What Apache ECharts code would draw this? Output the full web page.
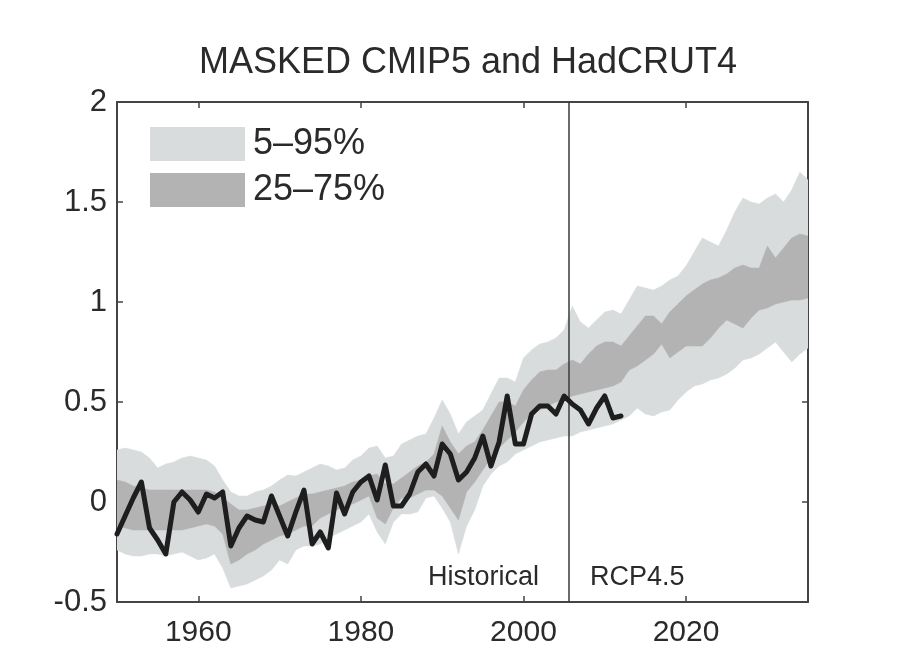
<!DOCTYPE html>
<html>
<head>
<meta charset="utf-8">
<script src="https://cdn.jsdelivr.net/npm/echarts@6/dist/echarts.min.js"></script>
<style>
html,body{margin:0;padding:0;background:#fff;}
#chart{width:900px;height:668px;}
</style>
</head>
<body>
<div id="chart"></div>
<script>
// ---- Data ----
const years = [1950,1951,1952,1953,1954,1955,1956,1957,1958,1959,
  1960,1961,1962,1963,1964,1965,1966,1967,1968,1969,
  1970,1971,1972,1973,1974,1975,1976,1977,1978,1979,
  1980,1981,1982,1983,1984,1985,1986,1987,1988,1989,
  1990,1991,1992,1993,1994,1995,1996,1997,1998,1999,
  2000,2001,2002,2003,2004,2005,2006,2007,2008,2009,
  2010,2011,2012,2013,2014,2015,2016,2017,2018,2019,
  2020,2021,2022,2023,2024,2025,2026,2027,2028,2029,
  2030,2031,2032,2033,2034,2035];

// CMIP5 5th percentile
const p5 = [-0.24,-0.26,-0.27,-0.27,-0.26,-0.26,-0.27,-0.26,-0.25,-0.27,
  -0.29,-0.28,-0.26,-0.33,-0.43,-0.42,-0.41,-0.39,-0.37,-0.34,
  -0.29,-0.31,-0.24,-0.22,-0.22,-0.21,-0.18,-0.16,-0.14,-0.12,
  -0.10,-0.06,-0.15,-0.21,-0.10,-0.06,-0.06,-0.05,0.02,0.03,
  -0.03,-0.10,-0.26,-0.12,-0.04,0.08,0.14,0.18,0.20,0.24,
  0.26,0.28,0.30,0.31,0.32,0.33,0.33,0.35,0.36,0.37,
  0.38,0.39,0.41,0.43,0.47,0.44,0.43,0.45,0.46,0.51,
  0.55,0.58,0.59,0.61,0.62,0.64,0.67,0.71,0.72,0.74,
  0.77,0.80,0.75,0.70,0.74,0.77];

// CMIP5 25th percentile
const p25 = [-0.12,-0.13,-0.14,-0.14,-0.14,-0.14,-0.14,-0.14,-0.14,-0.13,
  -0.12,-0.11,-0.12,-0.16,-0.31,-0.29,-0.26,-0.24,-0.21,-0.19,
  -0.17,-0.16,-0.14,-0.12,-0.12,-0.08,-0.06,-0.04,-0.02,-0.01,
  0.01,0.03,-0.08,-0.11,-0.03,0.02,0.02,0.04,0.06,0.06,
  0.03,-0.03,-0.09,0.05,0.10,0.16,0.22,0.27,0.31,0.35,
  0.40,0.44,0.46,0.48,0.50,0.51,0.53,0.54,0.55,0.56,
  0.57,0.58,0.60,0.66,0.68,0.71,0.74,0.79,0.72,0.75,
  0.78,0.78,0.78,0.82,0.87,0.91,0.89,0.87,0.92,0.96,
  0.97,0.99,1.00,1.01,1.01,1.02];

// CMIP5 75th percentile
const p75 = [0.11,0.10,0.08,0.07,0.06,0.06,0.06,0.06,0.06,0.06,
  0.06,0.06,0.05,0.02,-0.01,-0.04,-0.04,-0.03,-0.02,-0.01,
  -0.02,0.00,0.02,0.04,0.04,0.05,0.06,0.07,0.08,0.10,
  0.11,0.13,0.14,0.09,0.09,0.12,0.15,0.18,0.20,0.24,
  0.38,0.30,0.24,0.28,0.30,0.36,0.43,0.50,0.50,0.48,
  0.56,0.61,0.65,0.66,0.66,0.69,0.71,0.69,0.74,0.78,
  0.80,0.80,0.78,0.83,0.88,0.93,0.93,0.89,0.95,0.99,
  1.03,1.06,1.09,1.11,1.12,1.14,1.17,1.185,1.17,1.17,
  1.28,1.22,1.27,1.32,1.34,1.33];

// CMIP5 95th percentile
const p95 = [0.26,0.27,0.26,0.25,0.22,0.17,0.19,0.20,0.22,0.23,
  0.22,0.21,0.18,0.11,0.05,0.03,0.03,0.05,0.06,0.08,
  0.11,0.135,0.13,0.15,0.17,0.19,0.18,0.16,0.17,0.21,
  0.23,0.27,0.28,0.22,0.23,0.29,0.31,0.33,0.34,0.42,
  0.51,0.44,0.34,0.40,0.43,0.46,0.54,0.62,0.62,0.60,
  0.72,0.76,0.79,0.80,0.82,0.86,0.98,0.90,0.87,0.91,
  0.95,0.96,0.94,1.01,1.08,1.07,1.06,1.08,1.11,1.13,
  1.18,1.25,1.32,1.30,1.28,1.36,1.45,1.52,1.50,1.49,
  1.52,1.54,1.50,1.56,1.65,1.61];

// HadCRUT4 (1950-2012)
const obsYears = years.slice(0, 63);
const hadcrut4 = [-0.16,-0.07,0.02,0.10,-0.13,-0.19,-0.26,0.00,0.05,0.01,
  -0.05,0.04,0.02,0.05,-0.22,-0.13,-0.07,-0.09,-0.10,0.03,
  -0.07,-0.17,-0.05,0.06,-0.21,-0.15,-0.23,0.045,-0.06,0.05,
  0.10,0.13,0.01,0.185,-0.02,-0.02,0.04,0.15,0.19,0.13,
  0.29,0.24,0.11,0.15,0.22,0.33,0.18,0.30,0.53,0.29,
  0.29,0.44,0.48,0.48,0.44,0.53,0.49,0.46,0.39,0.47,
  0.53,0.42,0.43];

const xTickValues = [1960, 1980, 2000, 2020];
const splitYear = 2005.6;
const titleText = 'MASKED CMIP5 and HadCRUT4';
const legendNames = ['5\u201395%', '25\u201375%'];
const periodLabels = ['Historical', 'RCP4.5'];

// ---- Styling ----
const LIGHT = '#d8dcdc';
const DARK = '#b3b3b3';
const INK = '#2a2a2a';
const FONT = 'Liberation Sans, Arial, Helvetica, sans-serif';

// Band drawn as one polygon through the library's coordinate system
function bandSeries(name, lo, hi, color, z) {
  return {
    name: name, type: 'custom', coordinateSystem: 'cartesian2d', silent: true,
    color: color, itemStyle: { color: color }, z: z, clip: true,
    data: years.map((y, i) => [y, lo[i], hi[i]]),
    encode: { x: 0, y: [1, 2] },
    renderItem: function (params, api) {
      if (params.dataIndex !== 0) return null;
      const pts = [];
      for (let i = 0; i < years.length; i++) pts.push(api.coord([years[i], hi[i]]));
      for (let i = years.length - 1; i >= 0; i--) pts.push(api.coord([years[i], lo[i]]));
      return {
        type: 'polygon',
        shape: { points: pts },
        style: { fill: color, stroke: color, lineWidth: 0.5 }
      };
    }
  };
}

const axisLineStyle = { color: '#444', width: 2 };
const tickStyle = { color: '#444', width: 1.5 };

const option = {
  backgroundColor: '#ffffff',
  animation: false,
  title: {
    text: titleText, left: 463, textAlign: 'center', top: 40,
    textStyle: { fontFamily: FONT, fontSize: 36, fontWeight: 'normal', color: INK }
  },
  legend: {
    orient: 'vertical', left: 145, top: 121, itemWidth: 95, itemHeight: 34, itemGap: 10,
    icon: 'rect', selectedMode: false,
    data: [
      { name: legendNames[0], itemStyle: { color: LIGHT, borderWidth: 0 } },
      { name: legendNames[1], itemStyle: { color: DARK, borderWidth: 0 } }
    ],
    textStyle: { fontFamily: FONT, fontSize: 36, color: INK, padding: [0, 0, 0, 3] }
  },
  grid: { left: 117, right: 92, top: 102, bottom: 66, containLabel: false },
  xAxis: [{
    type: 'value', min: 1950, max: 2035, position: 'bottom',
    axisLine: { show: true, onZero: false, lineStyle: axisLineStyle },
    axisTick: { show: true, inside: true, length: 6, customValues: xTickValues, lineStyle: tickStyle },
    axisLabel: { show: true, customValues: xTickValues, margin: 16, fontFamily: FONT, fontSize: 30, color: INK,
      formatter: function (v) { return String(v); } },
    splitLine: { show: false }
  }, {
    type: 'value', min: 1950, max: 2035, position: 'top',
    axisLine: { show: true, onZero: false, lineStyle: axisLineStyle },
    axisTick: { show: true, inside: true, length: 6, customValues: xTickValues, lineStyle: tickStyle },
    axisLabel: { show: false },
    splitLine: { show: false }
  }],
  yAxis: [{
    type: 'value', min: -0.5, max: 2, interval: 0.5, position: 'left',
    axisLine: { show: true, onZero: false, lineStyle: axisLineStyle },
    axisTick: { show: true, inside: true, length: 6, lineStyle: tickStyle },
    axisLabel: { margin: 10, fontFamily: FONT, fontSize: 31, color: INK },
    splitLine: { show: false }
  }, {
    type: 'value', min: -0.5, max: 2, interval: 0.5, position: 'right',
    axisLine: { show: true, onZero: false, lineStyle: axisLineStyle },
    axisTick: { show: true, inside: true, length: 6, lineStyle: tickStyle },
    axisLabel: { show: false },
    splitLine: { show: false }
  }],
  series: [
    bandSeries(legendNames[0], p5, p95, LIGHT, 1),
    bandSeries(legendNames[1], p25, p75, DARK, 2),
    {
      name: 'HadCRUT4', type: 'line', showSymbol: false, symbol: 'none', silent: true,
      data: hadcrut4.map((v, i) => [obsYears[i], v]),
      color: '#1e1e1e',
      lineStyle: { color: '#1e1e1e', width: 5, join: 'round', cap: 'round' },
      z: 5,
      markLine: {
        silent: true, symbol: 'none', animation: false,
        label: { show: false },
        lineStyle: { color: '#3a3a3a', width: 1.5, type: 'solid' },
        data: [{ xAxis: splitYear }]
      }
    }
  ],
  graphic: [
    { type: 'text', left: 428, top: 564, style: { text: periodLabels[0], font: '27px ' + FONT, fill: INK } },
    { type: 'text', left: 590, top: 564, style: { text: periodLabels[1], font: '27px ' + FONT, fill: INK } }
  ]
};

const chart = echarts.init(document.getElementById('chart'), null, { renderer: 'canvas' });
chart.setOption(option);
</script>
</body>
</html>
